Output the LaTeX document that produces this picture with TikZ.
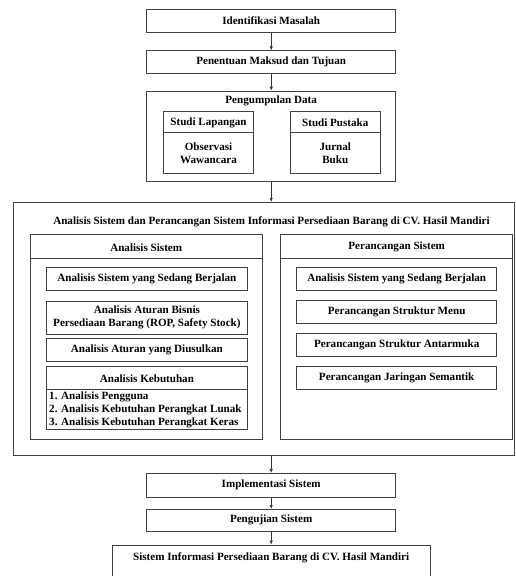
\documentclass[tikz,border=0pt]{standalone}
\usepackage{fontspec}
\setmainfont{Liberation Serif}
\usetikzlibrary{arrows.meta}

\begin{document}
\begin{tikzpicture}[x=1pt,y=-1pt,
  font=\fontsize{11.1}{12.6}\selectfont\bfseries,
  every node/.style={align=center,inner sep=0pt},
  garis/.style={draw=black!75,line width=0.7pt},
  kotak/.style={garis,minimum width=#1},
  panah/.style={draw=black!80,line width=0.7pt,-{Latex[length=4pt,width=3.5pt]}}]
\useasboundingbox (0,0) rectangle (516,576);
\clip (0,0) rectangle (516,576);
% alur atas
\node[kotak=249pt,minimum height=23pt] (idm) at (271.2,20.8) {Identifikasi Masalah};
\node[kotak=249pt,minimum height=22.6pt] (ptj) at (271.2,62) {Penentuan Maksud dan Tujuan};
\node[kotak=249pt,minimum height=90.7pt] (pgd) at (271.2,136.3) {};
\node (pgdt) at (271.2,101.2) {Pengumpulan Data};
\foreach \x/\nm/\judul/\isi in {208.5/stl/Studi Lapangan/{Observasi\\Wawancara},
                                335.3/stp/Studi Pustaka/{Jurnal\\Buku}}{
  \node[kotak=90.2pt,minimum height=61.6pt] (\nm) at (\x,142.5) {};
  \draw[garis] (\nm.west |- 0,132.7) -- (\nm.east |- 0,132.7);
  \node (\nm h) at (\x,122.6) {\judul};
  \node (\nm b) at (\x,153.4) {\isi};
}
% analisis dan perancangan
\node[kotak=500.7pt,minimum height=252.7pt] (asp) at (263.7,328.7) {};
\node (aspt) at (271.5,222.2) {Analisis Sistem dan Perancangan Sistem Informasi Persediaan Barang di CV. Hasil Mandiri};
\foreach \x/\nm/\judul in {146.2/ans/Analisis Sistem, 396.7/prs/Perancangan Sistem}{
  \node[kotak=231.8pt,minimum height=204.7pt] (\nm) at (\x,336.7) {};
  \draw[garis] (\nm.west |- 0,258.3) -- (\nm.east |- 0,258.3);
  \node (\nm h) at (\x,247.2) {\judul};
}
\node[kotak=200.3pt,minimum height=23pt] (an1) at (146.9,279.2) {Analisis Sistem yang Sedang Berjalan};
\node[kotak=200.3pt,minimum height=33pt] (an2) at (146.9,317.5) {Analisis Aturan Bisnis\\Persediaan Barang (ROP, Safety Stock)};
\node[kotak=200.3pt,minimum height=22.3pt] (an3) at (146.9,349.8) {Analisis Aturan yang Diusulkan};
\node[kotak=200.3pt,minimum height=62.6pt] (an4) at (146.9,398) {};
\draw[garis] (an4.west |- 0,389.3) -- (an4.east |- 0,389.3);
\node (an4h) at (146.9,378.4) {Analisis Kebutuhan};
\node[anchor=west,align=left] (an4b) at (49,409.8) {1. Analisis Pengguna\\2. Analisis Kebutuhan Perangkat Lunak\\3. Analisis Kebutuhan Perangkat Keras};
\foreach \y/\nm/\isi in {279.2/pr1/Analisis Sistem yang Sedang Berjalan,
                         312.2/pr2/Perancangan Struktur Menu,
                         345/pr3/Perancangan Struktur Antarmuka,
                         377.8/pr4/Perancangan Jaringan Semantik}
  \node[kotak=200pt,minimum height=22.8pt] (\nm) at (396.7,\y) {\isi};
% alur bawah
\node[kotak=249pt,minimum height=24pt] (imp) at (271.2,485.3) {Implementasi Sistem};
\node[kotak=249pt,minimum height=21.7pt] (pgj) at (271.2,520.2) {Pengujian Sistem};
\node[kotak=317.8pt,minimum height=40pt] (hsl) at (271.2,565) {};
\node (hslt) at (271.2,557.6) {Sistem Informasi Persediaan Barang di CV. Hasil Mandiri};
\draw[panah] (idm) -- (ptj);
\draw[panah] (ptj) -- (pgd);
\draw[panah] (pgd) -- (pgd |- asp.north);
\draw[panah] (asp.south -| imp) -- (imp);
\draw[panah] (imp) -- (pgj);
\draw[panah] (pgj) -- (hsl);
\end{tikzpicture}
\end{document}
